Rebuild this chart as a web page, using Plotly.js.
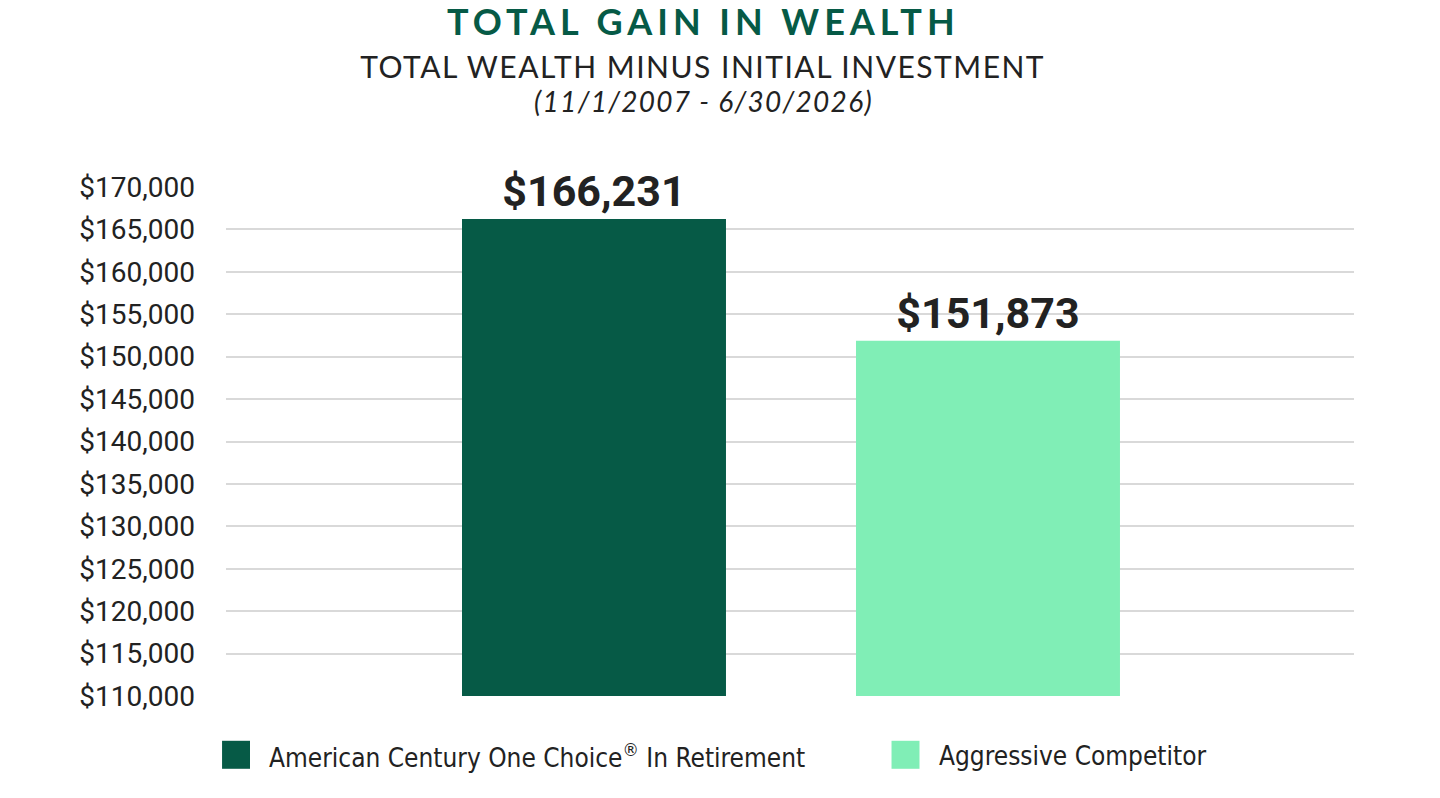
<!DOCTYPE html>
<html>
<head>
<meta charset="utf-8">
<script src="https://cdn.plot.ly/plotly-3.0.1.min.js"></script>
<style>
  html, body { margin: 0; padding: 0; background: #fff; }
  #chart { width: 1440px; height: 798px; }
  /* the heading uses wide tracking */
  .annotation[data-index="2"] text { letter-spacing: 5px; }
  .annotation[data-index="3"] text { letter-spacing: 1.5px; }
  .annotation[data-index="4"] text { letter-spacing: 1.3px; }
</style>
</head>
<body>
<div id="chart"></div>
<script>
// series
const seriesNames = ['American Century One Choice® In Retirement', 'Aggressive Competitor'];
const gainValues = [166231, 151873];
const barColors = ['#065a46', '#80eeb6'];

const data = seriesNames.map((name, i) => ({
    type: 'bar',
    x: [i],
    y: [gainValues[i]],
    name: name,
    width: 0.67,
    marker: { color: barColors[i] },
    text: ['$' + gainValues[i].toLocaleString('en-US')],
    textposition: 'outside',
    textfont: { family: 'Roboto', size: 43, color: '#222', weight: 'bold' },
    cliponaxis: false,
    hoverinfo: 'none',
    showlegend: false
}));

// legend drawn by hand so the swatches can be large
const legendX = [-0.0035, 0.590];
const shapes = [];
const annotations = [];
seriesNames.forEach((name, i) => {
    shapes.push({
        type: 'rect', xref: 'paper', yref: 'paper',
        x0: legendX[i], x1: legendX[i] + 0.0248, y0: -0.143, y1: -0.088,
        fillcolor: barColors[i], line: { width: 0 }
    });
    annotations.push({
        xref: 'paper', yref: 'paper', x: legendX[i] + 0.04, y: -0.117,
        xanchor: 'left', yanchor: 'middle', showarrow: false,
        text: name.replace('®', '<sup>®</sup>'),
        font: { family: 'DejaVu Sans Condensed, Liberation Sans Narrow, sans-serif', size: 26, color: '#222' }
    });
});

// heading lines (annotation indexes 2, 3, 4)
annotations.push(
    { xref: 'paper', yref: 'paper', x: 0.423, y: 1.326, showarrow: false,
      xanchor: 'center', yanchor: 'middle', text: 'TOTAL GAIN IN WEALTH',
      font: { family: 'Lato', size: 36, color: '#065a46', weight: 'bold' } },
    { xref: 'paper', yref: 'paper', x: 0.423, y: 1.238, showarrow: false,
      xanchor: 'center', yanchor: 'middle', text: 'TOTAL WEALTH MINUS INITIAL INVESTMENT',
      font: { family: 'Lato', size: 30, color: '#222' } },
    { xref: 'paper', yref: 'paper', x: 0.423, y: 1.168, showarrow: false,
      xanchor: 'center', yanchor: 'middle', text: '<i>(11/1/2007 - 6/30/2026)</i>',
      font: { family: 'Lato', size: 28, color: '#222' } }
);

const layout = {
    width: 1440,
    height: 798,
    margin: { l: 226, r: 86, t: 187, b: 102 },
    paper_bgcolor: '#fff',
    plot_bgcolor: '#fff',
    showlegend: false,
    xaxis: {
        range: [-0.934, 1.929],
        showticklabels: false,
        showgrid: false,
        zeroline: false,
        fixedrange: true
    },
    yaxis: {
        range: [110000, 170000],
        dtick: 5000,
        tickprefix: '$',
        tickformat: ',d',
        showgrid: true,
        gridcolor: '#d9d9d9',
        gridwidth: 2,
        zeroline: false,
        ticklabelstandoff: 30,
        tickfont: { family: 'Roboto', size: 28, color: '#222' }
    },
    shapes: shapes,
    annotations: annotations
};

Plotly.newPlot('chart', data, layout, { displayModeBar: false, staticPlot: true });
</script>
</body>
</html>
